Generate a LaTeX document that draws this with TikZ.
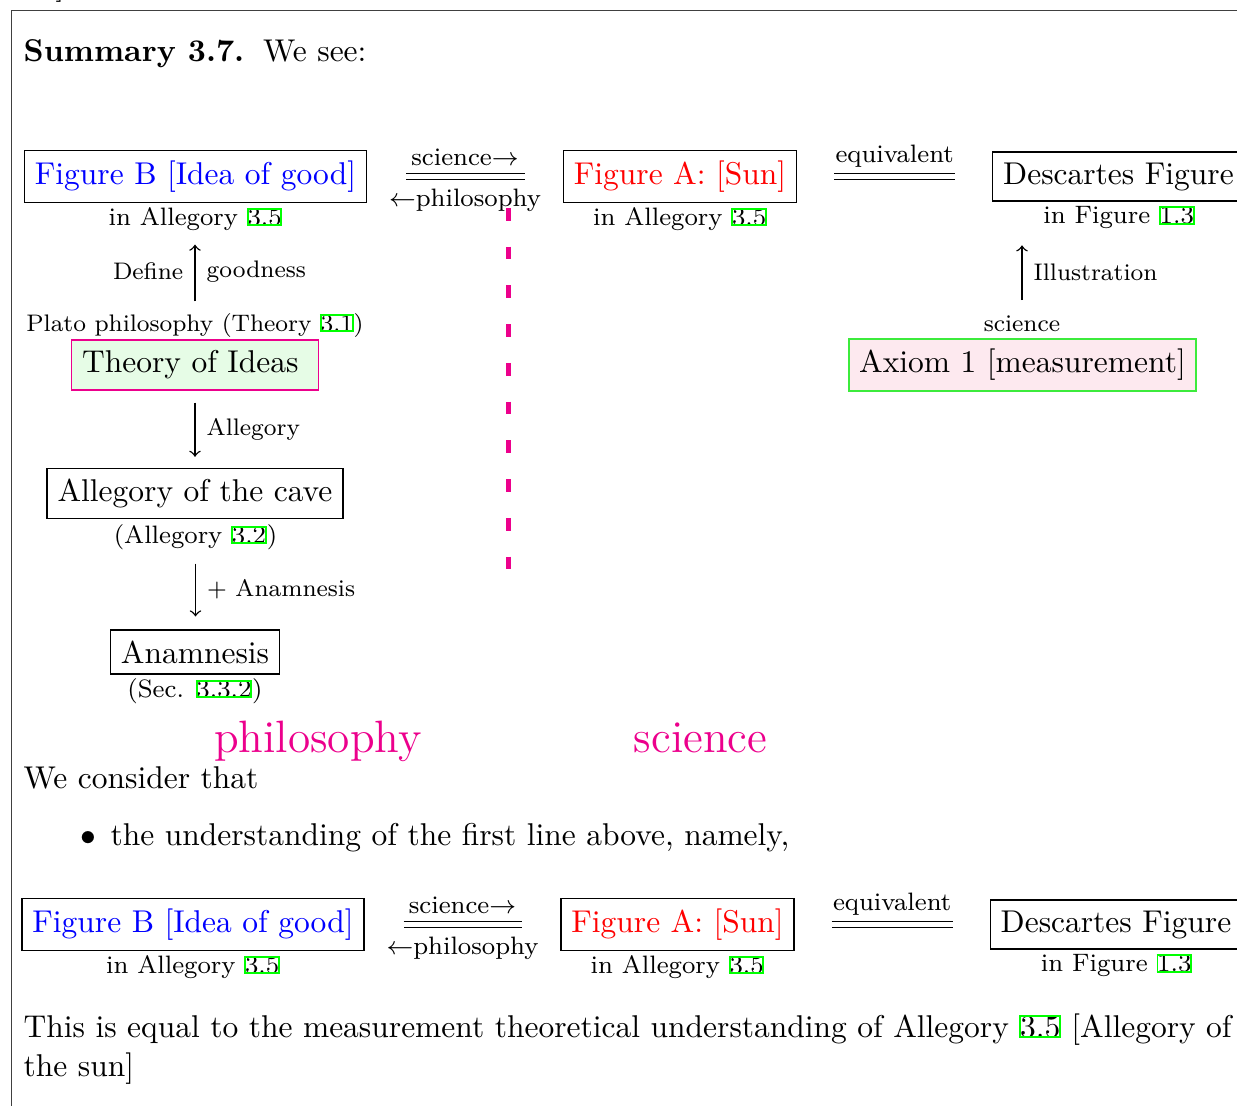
\documentclass[tikz,border=0pt]{standalone}
\usetikzlibrary{calc}
\definecolor{hotmag}{RGB}{236,0,140}
\definecolor{linkgreen}{RGB}{0,255,0}
\definecolor{ideafill}{RGB}{230,252,230}
\definecolor{axfill}{RGB}{253,233,239}
\definecolor{axborder}{RGB}{60,235,60}
\newcommand\rf[1]{{\fboxsep=-0.4pt\fboxrule=0.6pt\color{linkgreen}\fbox{\color{black}#1}}}
\tikzset{
  box/.style={draw, line width=0.45pt, inner sep=3.33pt, font=\fontsize{10}{12}\selectfont},
  capt/.style={inner sep=0pt, font=\fontsize{8}{9.5}\selectfont},
  smalltext/.style={inner sep=0pt, font=\fontsize{7.6}{9}\selectfont},
  lab/.style={inner xsep=3.5pt, inner ysep=0pt, font=\fontsize{7.6}{9}\selectfont},
  body/.style={inner sep=0pt, font=\fontsize{10}{12}\selectfont},
  bigmag/.style={inner sep=0pt, text=hotmag, font=\fontsize{14.4}{18}\selectfont},
  arr/.style={->, line width=0.45pt},
  eqline/.style={double, double distance=1.5pt, line width=0.4pt},
}
\newcommand\figrow[3]{%
\begin{scope}[shift={(#1,#2)}]
  \node[box,text=blue] (B#3) at (195.5,176.5) {Figure B [Idea of good]};
  \node[capt,anchor=base] (B#3c) at (195.5,225) {in Allegory \rf{3.5}};
  \node[box,text=red] (A#3) at (680,176.5) {Figure A: [Sun]};
  \node[capt,anchor=base] (A#3c) at (680,225) {in Allegory \rf{3.5}};
  \node[box] (D#3) at (1118.5,176.5) {Descartes Figure};
  \node[capt,anchor=base] (D#3c) at (1119,223.5) {in Figure \rf{1.3}};
  \draw[eqline, shorten <=12.3pt, shorten >=12pt] (B#3) -- (A#3)
     node[midway, capt, anchor=base, yshift=3.65pt] {science$\rightarrow$}
     node[midway, capt, anchor=base, yshift=-9.4pt] {$\leftarrow$philosophy};
  \draw[eqline, shorten <=11.7pt, shorten >=11.7pt] (A#3) -- (D#3)
     node[midway, capt, anchor=base, yshift=4.6pt] {equivalent};
\end{scope}}
\begin{document}
\begin{tikzpicture}[x=0.3175pt,y=-0.3175pt]
\useasboundingbox (0,0) rectangle (1237,1106);
% frame of the page
\draw[line width=0.5pt, black!75] (11.5,1106) -- (11.5,10.5) -- (1237,10.5);
\node[body, anchor=base west] (frag) at (55,-6) {]};

\node[body, anchor=base west] (title) at (23,61) {\textbf{Summary 3.7.}\hspace{6pt}We see:};

\figrow{0}{0}{1}

% left column
\node[smalltext, anchor=base] (plato) at (195,331) {Plato philosophy (Theory \rf{3.1})};
\draw[arr, shorten <=3.5pt, shorten >=4.4pt] (plato.north) -- (plato.north |- B1c.south)
   node[midway, lab, anchor=east] {Define}
   node[midway, lab, anchor=west] {goodness};
\node[box, draw=hotmag, fill=ideafill, line width=0.5pt] (toi) at (195,365) {Theory of Ideas\kern3pt};
\node[box] (cave) at (195,493.5) {Allegory of the cave};
\node[capt, anchor=base] (cavec) at (195.5,543) {(Allegory \rf{3.2})};
\draw[arr, shorten <=3.8pt, shorten >=3.5pt] (toi.south) -- (toi.south |- cave.north)
   node[midway, lab, anchor=west] {Allegory};
\node[box] (anam) at (195,652) {Anamnesis};
\node[capt, anchor=base] (anamc) at (195,697) {(Sec. \rf{3.3.2})};
\draw[arr, shorten <=4.35pt, shorten >=4.1pt] (cavec.south) -- (cavec.south |- anam.north)
   node[midway, lab, anchor=west] {+ Anamnesis};

% right column
\node[smalltext, anchor=base] (sci) at (1022,331.7) {science};
\draw[arr, shorten <=4.8pt, shorten >=5.1pt] (sci.north) -- (sci.north |- D1c.south)
   node[midway, lab, anchor=west] {Illustration};
\node[box, draw=axborder, fill=axfill, line width=0.5pt] (ax) at (1022.5,365) {Axiom 1 [measurement]};

% divider
\coordinate (divtop) at (508.7,208);
\coordinate (divbot) at (508.7,570);
\draw[hotmag, line width=1.5pt, dash pattern=on 4pt off 8.3pt] (divtop) -- (divbot);

\node[bigmag, anchor=base] (philo) at (318,752) {philosophy};
\node[bigmag, anchor=base] (scibig) at (700.5,752) {science};

\node[body, anchor=base west] (cons) at (23,788) {We consider that};
\node[body, anchor=base] (bul) at (88.5,845) {$\bullet$};
\node[body, anchor=base west] (item) at (110,845) {the understanding of the first line above, namely,};

\figrow{-2.5}{748}{2}

\node[body, anchor=base west] (eqa) at (23,1037) {This is equal to the measurement theoretical understanding of Allegory \rf{3.5} [Allegory of};
\node[body, anchor=base west] (eqb) at (23,1076) {the sun]};
\end{tikzpicture}
\end{document}
